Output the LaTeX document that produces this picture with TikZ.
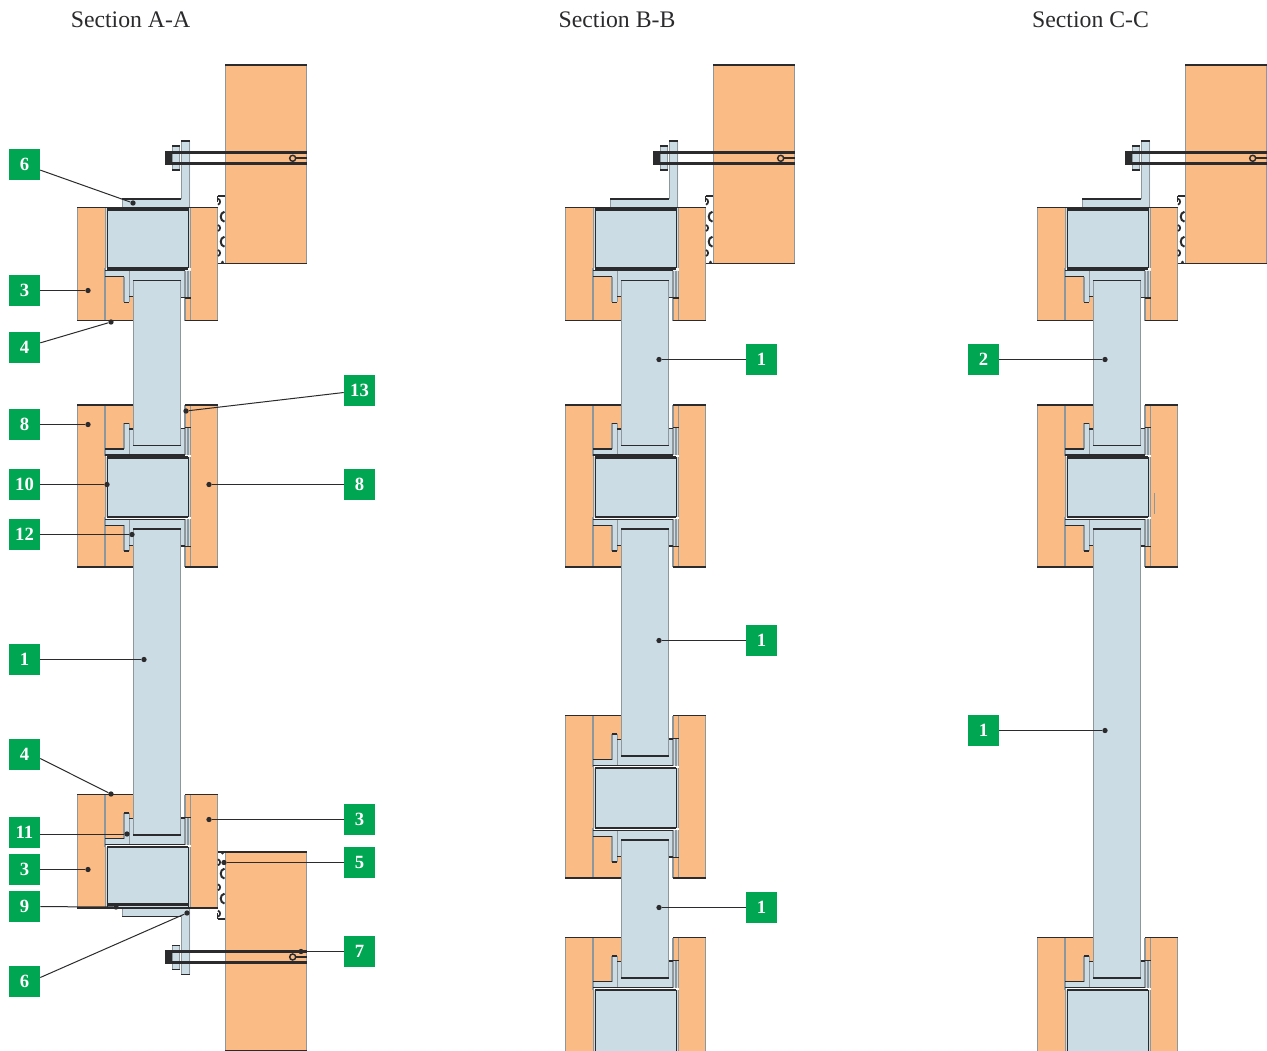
\documentclass[tikz,border=0pt]{standalone}
\usepackage{fontspec}
\setmainfont{Liberation Serif}
\definecolor{wood}{HTML}{FBBB84}
\definecolor{steel}{HTML}{CBDCE4}
\definecolor{edge}{HTML}{8E979B}
\definecolor{ink}{HTML}{2B2B2D}
\definecolor{tag}{HTML}{00A651}
\tikzset{
 x=0.75pt,y=-0.75pt,
 woodfill/.style={fill=wood,draw=none},
 steelfill/.style={fill=steel,draw=none},
 thinedge/.style={draw=edge,line width=0.8pt},
 darkline/.style={draw=ink,line width=1.1pt},
 heavyline/.style={draw=ink,line width=2pt},
 tagbox/.style={fill=tag,text=white,font=\bfseries\fontsize{14pt}{15pt}\selectfont,minimum size=23.25pt,inner sep=0pt},
 title/.style={font=\fontsize{17.8pt}{19pt}\selectfont,text=ink,anchor=base},
 leader/.style={draw=ink,line width=0.75pt},
 dotmark/.style={circle,fill=ink,inner sep=0pt,minimum size=4pt},
}
% half a joint: local y=0 is the edge of the box, +y runs into the panel side.
\newcommand{\halfjoint}[4]{% x offset, y of box edge, dir, timber length
 \begin{scope}[shift={(#1,#2)},yscale=#3]
  \fill[woodfill] (77.3,-61) rectangle (105,#4);
  \fill[woodfill] (105,8.4) -- (124,8.4) -- (124,34) -- (129.3,34) -- (129.3,28.4) -- (133.3,28.4) -- (133.3,#4) -- (105,#4) -- cycle;
  \fill[woodfill] (185,29.7) rectangle (190.7,#4);
  \fill[woodfill] (190.7,-61) rectangle (217.7,#4);
  \draw[thinedge] (77.3,-61) -- (77.3,#4) (105,0) -- (105,#4);
  \draw[thinedge] (133.3,28.4) -- (133.3,#4) (185,29.7) -- (185,#4) (190.7,29.7) -- (190.7,#4) (217.7,-61) -- (217.7,#4);
  \draw[darkline] (77.3,#4) -- (133.3,#4) (185,#4) -- (217.7,#4);
  \fill[steelfill] (105,2.4) -- (190.7,2.4) -- (190.7,29.7) -- (185,29.7) -- (185,29) -- (180.7,29) -- (180.7,12) -- (133.3,12) -- (133.3,28.4) -- (129.3,28.4) -- (129.3,34) -- (124,34) -- (124,8.4) -- (105,8.4) -- cycle;
  \draw[thinedge] (105,2.4) -- (105,8.4) (124,8.4) -- (124,34) (129.3,2.4) -- (129.3,34) (133.3,12) -- (133.3,28.4) (180.7,12) -- (180.7,29) (185,2.4) -- (185,29.7) (188,2.4) -- (188,29.7) (190.7,2.4) -- (190.7,29.7);
  \draw[darkline] (105,8.4) -- (124,8.4) (124,34) -- (129.3,34) (129.3,28.4) -- (133.3,28.4) (180.7,29) -- (185,29) (185,29.7) -- (190.7,29.7);
  \draw[darkline] (105,2.4) -- (185,2.4);
  \draw[darkline] (133.3,12) -- (180.7,12);
  \draw[heavyline] (107.3,0) -- (188,0);
 \end{scope}}
% the tubular box with its side strips
\newcommand{\boxbody}[3]{% x offset, y top, y bottom
 \begin{scope}[shift={(#1,0)}]
  \fill[steelfill] (105,#2) rectangle (190.7,#3);
  \draw[thinedge] (105,#2) -- (105,#3) (190.7,#2) -- (190.7,#3);
  \draw[draw=ink,line width=0.6pt] (107.3,#2) -- (107.3,#3) (188,#2) -- (188,#3);
 \end{scope}}
\newcommand{\boxcap}[2]{\draw[heavyline,shift={(#1,0)}] (107.3,#2) -- (188,#2);}
\newcommand{\panel}[3]{% x offset, y top, y bottom
 \begin{scope}[shift={(#1,0)}]
  \fill[steelfill] (133.3,#2) rectangle (180.7,#3);
  \draw[thinedge] (133.3,#2) -- (133.3,#3) (180.7,#2) -- (180.7,#3);
 \end{scope}}
% wall, insulation and bracket anchored at the timber's outer edge
\newcommand{\anchorset}[3]{% x offset, y of timber outer edge, dir
 \begin{scope}[shift={(#1,#2)},yscale=#3]
  \fill[woodfill] (225.3,-142.3) rectangle (306.7,56);
  \draw[thinedge] (225.3,-142.3) -- (225.3,56) (306.7,-142.3) -- (306.7,56);
  \draw[darkline] (225.3,-142.3) -- (306.7,-142.3) (225.3,56) -- (306.7,56);
  \draw[draw=ink,line width=1.5pt] (217.7,-11) -- (225.3,-11);
  \draw[draw=ink,line width=1pt] (217.7,-11) -- (217.7,-5);
  \draw[draw=edge,line width=0.8pt] (217.7,0) -- (217.7,56);
  \draw[darkline] (217.7,56) -- (225.3,56);
  \foreach \yy in {9.4,34.4} {
   \draw[ink,line width=1.5pt] (224.5,\yy-5) .. controls (219.5,\yy-4) and (219.5,\yy+4) .. (224.5,\yy+5);
  }
  \foreach \yy in {-5.6,20.7,45.7} {
   \draw[ink,line width=1.3pt] (218,\yy-3) .. controls (220.8,\yy-2) and (220.8,\yy+2) .. (218,\yy+3);
  }
  \fill[ink] (222.5,55) circle (1.6);
  % bracket
  \fill[steelfill] (122.3,-8.3) -- (181.3,-8.3) -- (181.3,-66.3) -- (190,-66.3) -- (190,0) -- (122.3,0) -- cycle;
  \draw[draw=edge,line width=1.3pt] (189.6,-66.3) -- (189.6,0);
  \draw[thinedge] (122.3,-8.3) -- (122.3,0) (181.3,-66.3) -- (181.3,-8.3);
  \draw[darkline] (122.3,-8.3) -- (181.3,-8.3) (181.3,-66.3) -- (190,-66.3);
  \draw[darkline] (77.3,0) -- (217.7,0);
  % washer plate
  \fill[steelfill] (172.3,-61.3) rectangle (179.7,-37.3);
  \draw[thinedge] (172.3,-61.3) -- (172.3,-37.3) (179.7,-61.3) -- (179.7,-37.3);
  \draw[darkline] (172.3,-61.3) -- (179.7,-61.3) (172.3,-37.3) -- (179.7,-37.3);
  % bolt
  \fill[ink] (165,-56.3) rectangle (172.3,-42.3);
  \draw[draw=ink,line width=1.9pt] (172.3,-54.6) -- (306.7,-54.6) (172.3,-43.6) -- (306.7,-43.6);
  \draw[draw=ink,line width=1.1pt] (292.7,-49) circle (3);
  \draw[draw=ink,line width=1.5pt] (295.7,-49) -- (306.7,-49);
 \end{scope}}
\begin{document}
\begin{tikzpicture}
\useasboundingbox (0,0) rectangle (1267,1050);
\fill[white] (0,0) rectangle (1267,1050);
\begin{scope}
\clip (0,0) rectangle (1267,1050);
% Section A
\panel{0}{270}{450}\panel{0}{525}{840}
\boxbody{0}{207.3}{268.3}\boxbody{0}{457.3}{517}\boxbody{0}{847}{908}
\halfjoint{0}{268.3}{1}{52.4}\halfjoint{0}{457.3}{-1}{52.4}\halfjoint{0}{517}{1}{50}\halfjoint{0}{847}{-1}{52.4}
\anchorset{0}{207.3}{1}\anchorset{0}{908}{-1}
\boxcap{0}{209.5}\boxcap{0}{904.5}
% Section B
\panel{488}{270}{450}\panel{488}{525}{760}\panel{488}{830}{985}
\boxbody{488}{207.3}{268.3}\boxbody{488}{457.3}{517}\boxbody{488}{768}{828}\boxbody{488}{990}{1052}
\halfjoint{488}{268.3}{1}{52.4}\halfjoint{488}{457.3}{-1}{52.4}\halfjoint{488}{517}{1}{50}\halfjoint{488}{768}{-1}{52.4}\halfjoint{488}{828}{1}{50}\halfjoint{488}{990}{-1}{52.4}
\anchorset{488}{207.3}{1}
\boxcap{488}{209.5}
% Section C
\panel{960}{270}{450}\panel{960}{525}{985}
\boxbody{960}{207.3}{268.3}\boxbody{960}{457.3}{517}\boxbody{960}{990}{1052}
\halfjoint{960}{268.3}{1}{52.4}\halfjoint{960}{457.3}{-1}{52.4}\halfjoint{960}{517}{1}{50}\halfjoint{960}{990}{-1}{52.4}
\anchorset{960}{207.3}{1}
\boxcap{960}{209.5}
\draw[thinedge,line width=0.5pt] (1154,493) -- (1154,514);
\end{scope}
% titles
\node[title] (ta) at (130.5,27.6) {Section A-A};
\node[title] (tb) at (617,27.6) {Section B-B};
\node[title] (tc) at (1090.5,27.6) {Section C-C};
% labels
\foreach \nm/\xx/\yy/\tx in {a6/24.5/164.5/6,a3/24.5/290.5/3,a4/24.5/347.5/4,a8/24.5/424.5/8,a10/24.5/484.5/10,a12/24.5/534.5/12,a1/24.5/659.5/1,b4/24.5/754.5/4,a11/24.5/832.5/11,b3/24.5/869.5/3,a9/24.5/906.5/9,b6/24.5/981.5/6,a13/359.5/390.5/13,b8/359.5/484.5/8,c3/359.5/819.5/3,a5/359.5/862.5/5,a7/359.5/951.5/7,e1/761.5/359.5/1,e2/761.5/640.5/1,e3/761.5/907.5/1,f2/983.5/359.5/2,f1/983.5/730.5/1}
 \node[tagbox] (\nm) at (\xx,\yy) {\tx};
% leader targets
\foreach \nm/\xx/\yy in {pa6/133/203,pa3/88/290.5,pa4/111/322,pa8/88/424.5,pa10/107/484.5,pa12/132/534.5,pa1/144/659.5,pb4/111/794,pa11/127/834,pb3/88/869.5,pa9/116/907,pb6/187/913,pa13/186/411,pb8/209/484.5,pc3/209/819.5,pa5/224/862.5,pa7/301/951.5,pe1/659/359.5,pe2/659/640.5,pe3/659/907.5,pf2/1105/359.5,pf1/1105/730.5}
 \node[dotmark] (\nm) at (\xx,\yy) {};
\draw[leader] (a6) -- (pa6);
\draw[leader] (a3) -- (pa3);
\draw[leader] (a4) -- (pa4);
\draw[leader] (a8) -- (pa8);
\draw[leader] (a10) -- (pa10);
\draw[leader] (a12) -- (pa12);
\draw[leader] (a1) -- (pa1);
\draw[leader] ([yshift=-3pt]b4.east) -- (pb4);
\draw[leader] (pa11 -| a11.east) -- (pa11);
\draw[leader] (b3) -- (pb3);
\draw[leader] (a9) -- (pa9);
\draw[leader] ([yshift=3pt]b6.east) -- (pb6);
\draw[leader] ([yshift=-1.5pt]a13.west) -- (pa13);
\draw[leader] (b8) -- (pb8);
\draw[leader] (c3) -- (pc3);
\draw[leader] (a5) -- (pa5);
\draw[leader] (a7) -- (pa7);
\draw[leader] (e1) -- (pe1);
\draw[leader] (e2) -- (pe2);
\draw[leader] (e3) -- (pe3);
\draw[leader] (f2) -- (pf2);
\draw[leader] (f1) -- (pf1);
\end{tikzpicture}
\end{document}
